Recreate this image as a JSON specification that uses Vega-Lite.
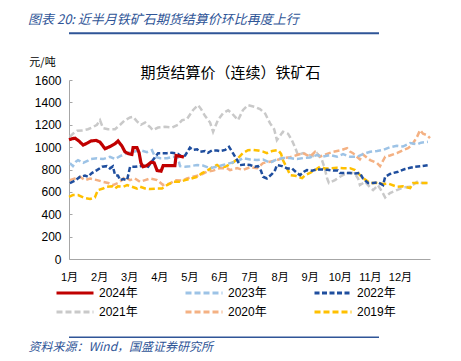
{
"$schema": "https://vega.github.io/schema/vega-lite/v6.json",
"width": 361, "height": 179,
"autosize": {"type": "none"},
"padding": {"left": 69, "top": 80, "right": 31, "bottom": 102},
"background": "white",
"config": {"view": {"stroke": null}, "font": "Liberation Sans, Noto Sans CJK SC"},
"title": {"text": "图表 20:  近半月铁矿石期货结算价环比再度上行", "anchor": "start", "frame": "group", "dx": -41, "offset": 5, "font": "Noto Sans CJK SC", "fontSize": 13, "fontStyle": "italic", "fontWeight": "normal", "color": "#2F5597"},
"datasets": {
"prices": [
{"year":"2021年","month":0.03,"price":1092},{"year":"2021年","month":0.13,"price":1120},{"year":"2021年","month":0.27,"price":1146},{"year":"2021年","month":0.47,"price":1150},{"year":"2021年","month":0.63,"price":1160},{"year":"2021年","month":0.80,"price":1180},{"year":"2021年","month":0.93,"price":1200},{"year":"2021年","month":1.03,"price":1241},{"year":"2021年","month":1.13,"price":1170},{"year":"2021年","month":1.30,"price":1160},{"year":"2021年","month":1.53,"price":1160},{"year":"2021年","month":1.70,"price":1200},{"year":"2021年","month":1.86,"price":1241},{"year":"2021年","month":2.03,"price":1265},{"year":"2021年","month":2.13,"price":1271},{"year":"2021年","month":2.26,"price":1230},{"year":"2021年","month":2.39,"price":1200},{"year":"2021年","month":2.53,"price":1220},{"year":"2021年","month":2.69,"price":1180},{"year":"2021年","month":2.79,"price":1152},{"year":"2021年","month":2.96,"price":1175},{"year":"2021年","month":3.19,"price":1181},{"year":"2021年","month":3.42,"price":1175},{"year":"2021年","month":3.62,"price":1200},{"year":"2021年","month":3.76,"price":1241},{"year":"2021年","month":3.92,"price":1250},{"year":"2021年","month":4.12,"price":1330},{"year":"2021年","month":4.29,"price":1375},{"year":"2021年","month":4.39,"price":1340},{"year":"2021年","month":4.52,"price":1280},{"year":"2021年","month":4.69,"price":1220},{"year":"2021年","month":4.79,"price":1137},{"year":"2021年","month":4.95,"price":1241},{"year":"2021年","month":5.12,"price":1303},{"year":"2021年","month":5.29,"price":1330},{"year":"2021年","month":5.42,"price":1300},{"year":"2021年","month":5.62,"price":1241},{"year":"2021年","month":5.78,"price":1330},{"year":"2021年","month":5.95,"price":1375},{"year":"2021年","month":6.18,"price":1360},{"year":"2021年","month":6.35,"price":1340},{"year":"2021年","month":6.52,"price":1300},{"year":"2021年","month":6.68,"price":1214},{"year":"2021年","month":6.82,"price":1160},{"year":"2021年","month":6.91,"price":1063},{"year":"2021年","month":7.01,"price":1100},{"year":"2021年","month":7.11,"price":1137},{"year":"2021年","month":7.28,"price":1120},{"year":"2021年","month":7.41,"price":1060},{"year":"2021年","month":7.51,"price":1000},{"year":"2021年","month":7.61,"price":930},{"year":"2021年","month":7.78,"price":946},{"year":"2021年","month":7.95,"price":930},{"year":"2021年","month":8.11,"price":920},{"year":"2021年","month":8.24,"price":946},{"year":"2021年","month":8.41,"price":884},{"year":"2021年","month":8.51,"price":800},{"year":"2021年","month":8.58,"price":720},{"year":"2021年","month":8.64,"price":679},{"year":"2021年","month":8.84,"price":705},{"year":"2021年","month":9.01,"price":735},{"year":"2021年","month":9.24,"price":768},{"year":"2021年","month":9.41,"price":770},{"year":"2021年","month":9.51,"price":760},{"year":"2021年","month":9.61,"price":720},{"year":"2021年","month":9.67,"price":661},{"year":"2021年","month":9.84,"price":690},{"year":"2021年","month":10.01,"price":640},{"year":"2021年","month":10.11,"price":616},{"year":"2021年","month":10.27,"price":660},{"year":"2021年","month":10.41,"price":600},{"year":"2021年","month":10.51,"price":550},{"year":"2021年","month":10.67,"price":590},{"year":"2021年","month":10.90,"price":616},{"year":"2021年","month":11.10,"price":640},{"year":"2021年","month":11.34,"price":646},{"year":"2021年","month":11.57,"price":690},{"year":"2021年","month":11.74,"price":680},{"year":"2021年","month":11.93,"price":679},
{"year":"2020年","month":0.03,"price":705},{"year":"2020年","month":0.20,"price":720},{"year":"2020年","month":0.37,"price":735},{"year":"2020年","month":0.53,"price":705},{"year":"2020年","month":0.70,"price":720},{"year":"2020年","month":0.93,"price":705},{"year":"2020年","month":1.13,"price":690},{"year":"2020年","month":1.30,"price":680},{"year":"2020年","month":1.46,"price":661},{"year":"2020年","month":1.63,"price":680},{"year":"2020年","month":1.76,"price":705},{"year":"2020年","month":1.86,"price":735},{"year":"2020年","month":2.03,"price":705},{"year":"2020年","month":2.19,"price":720},{"year":"2020年","month":2.36,"price":690},{"year":"2020年","month":2.53,"price":705},{"year":"2020年","month":2.69,"price":720},{"year":"2020年","month":2.93,"price":705},{"year":"2020年","month":3.13,"price":661},{"year":"2020年","month":3.36,"price":675},{"year":"2020年","month":3.52,"price":705},{"year":"2020年","month":3.76,"price":700},{"year":"2020年","month":3.92,"price":720},{"year":"2020年","month":4.12,"price":735},{"year":"2020年","month":4.36,"price":750},{"year":"2020年","month":4.59,"price":780},{"year":"2020年","month":4.79,"price":790},{"year":"2020年","month":5.02,"price":812},{"year":"2020年","month":5.25,"price":812},{"year":"2020年","month":5.35,"price":795},{"year":"2020年","month":5.59,"price":812},{"year":"2020年","month":5.78,"price":795},{"year":"2020年","month":6.02,"price":820},{"year":"2020年","month":6.25,"price":812},{"year":"2020年","month":6.45,"price":857},{"year":"2020年","month":6.68,"price":870},{"year":"2020年","month":6.91,"price":884},{"year":"2020年","month":7.11,"price":902},{"year":"2020年","month":7.35,"price":910},{"year":"2020年","month":7.58,"price":929},{"year":"2020年","month":7.78,"price":946},{"year":"2020年","month":8.01,"price":915},{"year":"2020年","month":8.18,"price":958},{"year":"2020年","month":8.34,"price":915},{"year":"2020年","month":8.58,"price":940},{"year":"2020年","month":8.78,"price":958},{"year":"2020年","month":9.01,"price":970},{"year":"2020年","month":9.24,"price":991},{"year":"2020年","month":9.34,"price":960},{"year":"2020年","month":9.44,"price":946},{"year":"2020年","month":9.57,"price":914},{"year":"2020年","month":9.67,"price":890},{"year":"2020年","month":9.77,"price":935},{"year":"2020年","month":10.01,"price":884},{"year":"2020年","month":10.24,"price":857},{"year":"2020年","month":10.34,"price":830},{"year":"2020年","month":10.51,"price":914},{"year":"2020年","month":10.67,"price":925},{"year":"2020年","month":10.90,"price":946},{"year":"2020年","month":11.10,"price":973},{"year":"2020年","month":11.27,"price":990},{"year":"2020年","month":11.40,"price":1018},{"year":"2020年","month":11.57,"price":1092},{"year":"2020年","month":11.67,"price":1152},{"year":"2020年","month":11.77,"price":1120},{"year":"2020年","month":11.90,"price":1107},{"year":"2020年","month":12.0,"price":1080},
{"year":"2019年","month":0.0,"price":556},{"year":"2019年","month":0.13,"price":571},{"year":"2019年","month":0.30,"price":571},{"year":"2019年","month":0.53,"price":545},{"year":"2019年","month":0.70,"price":536},{"year":"2019年","month":0.86,"price":550},{"year":"2019年","month":0.96,"price":616},{"year":"2019年","month":1.13,"price":630},{"year":"2019年","month":1.26,"price":646},{"year":"2019年","month":1.43,"price":650},{"year":"2019年","month":1.53,"price":630},{"year":"2019年","month":1.63,"price":650},{"year":"2019年","month":1.80,"price":646},{"year":"2019年","month":1.93,"price":661},{"year":"2019年","month":2.09,"price":646},{"year":"2019年","month":2.26,"price":630},{"year":"2019年","month":2.36,"price":646},{"year":"2019年","month":2.53,"price":630},{"year":"2019年","month":2.69,"price":625},{"year":"2019年","month":2.93,"price":630},{"year":"2019年","month":3.09,"price":630},{"year":"2019年","month":3.26,"price":661},{"year":"2019年","month":3.46,"price":690},{"year":"2019年","month":3.69,"price":690},{"year":"2019年","month":3.86,"price":705},{"year":"2019年","month":4.02,"price":715},{"year":"2019年","month":4.26,"price":735},{"year":"2019年","month":4.42,"price":768},{"year":"2019年","month":4.52,"price":780},{"year":"2019年","month":4.62,"price":795},{"year":"2019年","month":4.79,"price":824},{"year":"2019年","month":4.92,"price":840},{"year":"2019年","month":5.02,"price":822},{"year":"2019年","month":5.19,"price":824},{"year":"2019年","month":5.35,"price":848},{"year":"2019年","month":5.49,"price":870},{"year":"2019年","month":5.62,"price":902},{"year":"2019年","month":5.78,"price":946},{"year":"2019年","month":5.95,"price":973},{"year":"2019年","month":6.12,"price":975},{"year":"2019年","month":6.28,"price":970},{"year":"2019年","month":6.45,"price":960},{"year":"2019年","month":6.58,"price":946},{"year":"2019年","month":6.75,"price":965},{"year":"2019年","month":6.95,"price":973},{"year":"2019年","month":7.05,"price":940},{"year":"2019年","month":7.11,"price":884},{"year":"2019年","month":7.25,"price":812},{"year":"2019年","month":7.35,"price":750},{"year":"2019年","month":7.51,"price":745},{"year":"2019年","month":7.75,"price":723},{"year":"2019年","month":7.85,"price":750},{"year":"2019年","month":8.01,"price":770},{"year":"2019年","month":8.18,"price":795},{"year":"2019年","month":8.34,"price":824},{"year":"2019年","month":8.51,"price":810},{"year":"2019年","month":8.68,"price":810},{"year":"2019年","month":8.91,"price":815},{"year":"2019年","month":9.11,"price":812},{"year":"2019年","month":9.34,"price":812},{"year":"2019年","month":9.51,"price":795},{"year":"2019年","month":9.61,"price":768},{"year":"2019年","month":9.77,"price":723},{"year":"2019年","month":10.01,"price":679},{"year":"2019年","month":10.24,"price":679},{"year":"2019年","month":10.44,"price":670},{"year":"2019年","month":10.60,"price":675},{"year":"2019年","month":10.90,"price":646},{"year":"2019年","month":11.10,"price":650},{"year":"2019年","month":11.34,"price":634},{"year":"2019年","month":11.44,"price":679},{"year":"2019年","month":11.67,"price":680},{"year":"2019年","month":11.93,"price":679},
{"year":"2023年","month":0.03,"price":857},{"year":"2023年","month":0.13,"price":830},{"year":"2023年","month":0.23,"price":870},{"year":"2023年","month":0.30,"price":884},{"year":"2023年","month":0.47,"price":860},{"year":"2023年","month":0.63,"price":880},{"year":"2023年","month":0.70,"price":893},{"year":"2023年","month":0.93,"price":900},{"year":"2023年","month":1.13,"price":893},{"year":"2023年","month":1.36,"price":914},{"year":"2023年","month":1.53,"price":893},{"year":"2023年","month":1.70,"price":920},{"year":"2023年","month":1.93,"price":946},{"year":"2023年","month":2.13,"price":958},{"year":"2023年","month":2.36,"price":973},{"year":"2023年","month":2.59,"price":955},{"year":"2023年","month":2.76,"price":973},{"year":"2023年","month":2.86,"price":914},{"year":"2023年","month":3.03,"price":900},{"year":"2023年","month":3.26,"price":900},{"year":"2023年","month":3.46,"price":914},{"year":"2023年","month":3.62,"price":905},{"year":"2023年","month":3.69,"price":830},{"year":"2023年","month":3.86,"price":825},{"year":"2023年","month":4.02,"price":830},{"year":"2023年","month":4.26,"price":840},{"year":"2023年","month":4.45,"price":835},{"year":"2023年","month":4.69,"price":812},{"year":"2023年","month":4.92,"price":825},{"year":"2023年","month":5.12,"price":840},{"year":"2023年","month":5.35,"price":857},{"year":"2023年","month":5.59,"price":870},{"year":"2023年","month":5.78,"price":902},{"year":"2023年","month":6.02,"price":890},{"year":"2023年","month":6.25,"price":884},{"year":"2023年","month":6.45,"price":890},{"year":"2023年","month":6.68,"price":860},{"year":"2023年","month":6.91,"price":890},{"year":"2023年","month":7.11,"price":902},{"year":"2023年","month":7.35,"price":902},{"year":"2023年","month":7.58,"price":893},{"year":"2023年","month":7.78,"price":902},{"year":"2023年","month":8.01,"price":908},{"year":"2023年","month":8.24,"price":929},{"year":"2023年","month":8.44,"price":915},{"year":"2023年","month":8.68,"price":929},{"year":"2023年","month":8.91,"price":915},{"year":"2023年","month":9.11,"price":937},{"year":"2023年","month":9.34,"price":915},{"year":"2023年","month":9.57,"price":914},{"year":"2023年","month":9.77,"price":937},{"year":"2023年","month":10.01,"price":958},{"year":"2023年","month":10.24,"price":965},{"year":"2023年","month":10.44,"price":975},{"year":"2023年","month":10.67,"price":1000},{"year":"2023年","month":10.90,"price":1012},{"year":"2023年","month":11.10,"price":1005},{"year":"2023年","month":11.34,"price":1036},{"year":"2023年","month":11.57,"price":1025},{"year":"2023年","month":11.70,"price":1040},{"year":"2023年","month":11.93,"price":1047},
{"year":"2022年","month":0.03,"price":679},{"year":"2022年","month":0.20,"price":700},{"year":"2022年","month":0.37,"price":735},{"year":"2022年","month":0.53,"price":745},{"year":"2022年","month":0.63,"price":735},{"year":"2022年","month":0.76,"price":768},{"year":"2022年","month":0.93,"price":795},{"year":"2022年","month":1.10,"price":824},{"year":"2022年","month":1.26,"price":830},{"year":"2022年","month":1.36,"price":810},{"year":"2022年","month":1.46,"price":828},{"year":"2022年","month":1.53,"price":750},{"year":"2022年","month":1.63,"price":745},{"year":"2022年","month":1.70,"price":705},{"year":"2022年","month":1.80,"price":715},{"year":"2022年","month":1.93,"price":705},{"year":"2022年","month":2.03,"price":824},{"year":"2022年","month":2.19,"price":824},{"year":"2022年","month":2.36,"price":830},{"year":"2022年","month":2.53,"price":835},{"year":"2022年","month":2.63,"price":825},{"year":"2022年","month":2.79,"price":884},{"year":"2022年","month":2.96,"price":946},{"year":"2022年","month":3.13,"price":946},{"year":"2022年","month":3.26,"price":946},{"year":"2022年","month":3.42,"price":950},{"year":"2022年","month":3.52,"price":946},{"year":"2022年","month":3.62,"price":940},{"year":"2022年","month":3.76,"price":914},{"year":"2022年","month":3.86,"price":925},{"year":"2022年","month":4.02,"price":995},{"year":"2022年","month":4.12,"price":975},{"year":"2022年","month":4.26,"price":980},{"year":"2022年","month":4.36,"price":958},{"year":"2022年","month":4.52,"price":965},{"year":"2022年","month":4.62,"price":950},{"year":"2022年","month":4.75,"price":970},{"year":"2022年","month":4.92,"price":970},{"year":"2022年","month":5.02,"price":965},{"year":"2022年","month":5.19,"price":975},{"year":"2022年","month":5.32,"price":1003},{"year":"2022年","month":5.45,"price":946},{"year":"2022年","month":5.59,"price":884},{"year":"2022年","month":5.68,"price":839},{"year":"2022年","month":5.85,"price":845},{"year":"2022年","month":6.02,"price":840},{"year":"2022年","month":6.18,"price":824},{"year":"2022年","month":6.28,"price":830},{"year":"2022年","month":6.38,"price":790},{"year":"2022年","month":6.45,"price":735},{"year":"2022年","month":6.58,"price":720},{"year":"2022年","month":6.75,"price":760},{"year":"2022年","month":6.85,"price":795},{"year":"2022年","month":6.91,"price":839},{"year":"2022年","month":7.08,"price":830},{"year":"2022年","month":7.25,"price":810},{"year":"2022年","month":7.41,"price":810},{"year":"2022年","month":7.58,"price":768},{"year":"2022年","month":7.68,"price":750},{"year":"2022年","month":7.81,"price":780},{"year":"2022年","month":7.91,"price":795},{"year":"2022年","month":8.08,"price":790},{"year":"2022年","month":8.24,"price":800},{"year":"2022年","month":8.41,"price":800},{"year":"2022年","month":8.58,"price":798},{"year":"2022年","month":8.78,"price":790},{"year":"2022年","month":8.94,"price":790},{"year":"2022年","month":9.01,"price":768},{"year":"2022年","month":9.18,"price":770},{"year":"2022年","month":9.34,"price":768},{"year":"2022年","month":9.51,"price":765},{"year":"2022年","month":9.67,"price":770},{"year":"2022年","month":9.77,"price":720},{"year":"2022年","month":9.94,"price":679},{"year":"2022年","month":10.11,"price":680},{"year":"2022年","month":10.27,"price":685},{"year":"2022年","month":10.44,"price":661},{"year":"2022年","month":10.51,"price":735},{"year":"2022年","month":10.67,"price":760},{"year":"2022年","month":10.77,"price":768},{"year":"2022年","month":10.94,"price":780},{"year":"2022年","month":11.17,"price":804},{"year":"2022年","month":11.34,"price":815},{"year":"2022年","month":11.50,"price":824},{"year":"2022年","month":11.70,"price":830},{"year":"2022年","month":11.93,"price":839},
{"year":"2024年","month":0.0,"price":1065},{"year":"2024年","month":0.10,"price":1075},{"year":"2024年","month":0.20,"price":1080},{"year":"2024年","month":0.33,"price":1055},{"year":"2024年","month":0.47,"price":1018},{"year":"2024年","month":0.60,"price":1035},{"year":"2024年","month":0.73,"price":1055},{"year":"2024年","month":0.90,"price":1060},{"year":"2024年","month":1.03,"price":1045},{"year":"2024年","month":1.20,"price":985},{"year":"2024年","month":1.36,"price":1005},{"year":"2024年","month":1.53,"price":1030},{"year":"2024年","month":1.63,"price":1055},{"year":"2024年","month":1.76,"price":1010},{"year":"2024年","month":1.86,"price":958},{"year":"2024年","month":1.99,"price":940},{"year":"2024年","month":2.09,"price":935},{"year":"2024年","month":2.13,"price":995},{"year":"2024年","month":2.26,"price":995},{"year":"2024年","month":2.33,"price":950},{"year":"2024年","month":2.39,"price":860},{"year":"2024年","month":2.46,"price":825},{"year":"2024年","month":2.59,"price":835},{"year":"2024年","month":2.73,"price":865},{"year":"2024年","month":2.83,"price":860},{"year":"2024年","month":2.93,"price":790},{"year":"2024年","month":3.06,"price":785},{"year":"2024年","month":3.13,"price":835},{"year":"2024年","month":3.29,"price":835},{"year":"2024年","month":3.52,"price":835},{"year":"2024年","month":3.56,"price":925},{"year":"2024年","month":3.69,"price":918},{"year":"2024年","month":3.82,"price":912}
]
},
"layer": [
{
"data": {"name": "prices"},
"transform": [{"filter": "datum.year != '2024年'"}],
"mark": {"type": "line", "strokeWidth": 2.5},
"encoding": {
"x": {"field": "month", "type": "quantitative", "scale": {"domain": [0, 12], "nice": false, "zero": false},
"axis": {"orient": "bottom", "values": [0,1,2,3,4,5,6,7,8,9,10,11], "labelExpr": "(datum.value + 1) + '月'", "domainColor": "#A6A6A6", "ticks": false, "grid": false, "labelFontSize": 11, "labelPadding": 12, "labelColor": "#000000", "labelFlush": false, "labelOverlap": false,
"title": "资料来源：Wind，国盛证券研究所", "titleFont": "Noto Sans CJK SC", "titleFontSize": 12, "titleFontStyle": "italic", "titleFontWeight": "normal", "titleColor": "#2F5597", "titleX": -41, "titleY": 87, "titleAlign": "left", "titleAnchor": "start", "titleBaseline": "middle"}},
"y": {"field": "price", "type": "quantitative", "scale": {"domain": [0, 1600], "nice": false, "zero": false},
"axis": {"values": [0,200,400,600,800,1000,1200,1400,1600], "format": "d", "domainColor": "#A6A6A6", "tickColor": "#A6A6A6", "tickSize": -3, "labelPadding": 11, "labelFontSize": 12, "labelColor": "#000000", "grid": false,
"title": "元/吨", "titleAngle": 0, "titleX": -27, "titleY": -18, "titleAlign": "center", "titleBaseline": "middle", "titleFont": "Noto Sans CJK SC", "titleFontSize": 11, "titleFontWeight": "normal", "titleColor": "#000000"}},
"color": {"field": "year", "type": "nominal",
"scale": {"domain": ["2024年","2023年","2022年","2021年","2020年","2019年"], "range": ["#C00000","#9DC3E6","#1F4E9E","#C9C9C9","#F4B183","#FFC000"]},
"legend": {"orient": "none", "legendX": -14, "legendY": 205, "direction": "horizontal", "columns": 3, "title": null, "symbolType": "stroke", "symbolSize": 1369, "symbolStrokeWidth": 2.8, "labelFontSize": 12, "labelColor": "#000000", "labelOffset": 4, "columnPadding": 46, "rowPadding": 3, "clipHeight": 16, "symbolLimit": 0}},
"strokeDash": {"field": "year", "type": "nominal",
"scale": {"domain": ["2024年","2023年","2022年","2021年","2020年","2019年"], "range": [[1,0],[6,3],[5,2.5],[6,3],[6,3],[6,3]]}}
}
},
{
"data": {"name": "prices"},
"transform": [{"filter": "datum.year == '2024年'"}],
"mark": {"type": "line", "strokeWidth": 3.2},
"encoding": {
"x": {"field": "month", "type": "quantitative", "scale": {"domain": [0, 12], "nice": false, "zero": false},
"axis": {"orient": "top", "domain": false, "ticks": false, "labels": false, "grid": false, "title": "期货结算价（连续）铁矿石", "titleFont": "Noto Sans CJK SC", "titleFontSize": 15, "titleFontWeight": "normal", "titleColor": "#000000", "titleX": 161, "titleY": -8, "titleAlign": "center", "titleBaseline": "middle"}},
"y": {"field": "price", "type": "quantitative", "scale": {"domain": [0, 1600], "nice": false, "zero": false}, "axis": null},
"color": {"field": "year", "type": "nominal"},
"strokeDash": {"field": "year", "type": "nominal"}
}
},
{
"data": {"values": [{"line": "header"}]},
"mark": {"type": "rule", "color": "#2F5597", "strokeWidth": 2, "clip": false, "xOffset": -51, "x2Offset": 15},
"encoding": {
"y": {"datum": 2017, "type": "quantitative", "axis": null}
}
},
{
"data": {"values": [{"line": "footer"}]},
"mark": {"type": "rule", "color": "#2F5597", "strokeWidth": 1.5, "clip": false, "xOffset": -51, "x2Offset": 15},
"encoding": {
"y": {"datum": -700, "type": "quantitative", "axis": null}
}
}
],
"resolve": {"axis": {"x": "independent", "y": "independent"}}
}
